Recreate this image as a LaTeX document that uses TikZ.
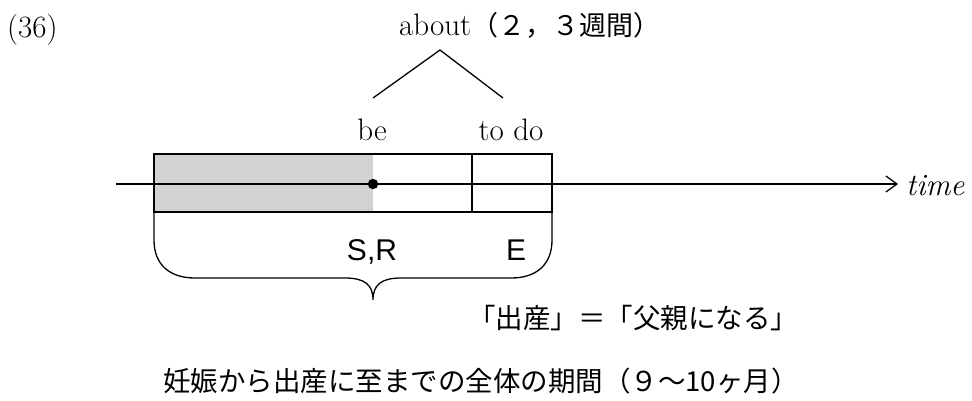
\documentclass[tikz,border=0pt]{standalone}
\usepackage{fontspec}
\newfontfamily\jp{Noto Sans CJK JP}
\newfontfamily\sansf{Liberation Sans}
\usetikzlibrary{arrows.meta}
\definecolor{boxgray}{HTML}{D1D2D4}
\tikzset{
  lbl/.style={inner sep=0pt, font=\fontsize{31}{36}\selectfont},
  jplbl/.style={inner sep=0pt, font=\jp\fontsize{27.5}{32}\selectfont},
  sanslbl/.style={inner sep=0pt, font=\sansf\fontsize{30}{34}\selectfont},
  ln/.style={line width=1.3pt, black},
}
\begin{document}
\begin{tikzpicture}[x=1pt,y=-1pt]
\useasboundingbox (0,0) rectangle (972,400);
% labels
\node[lbl, anchor=base west] (num) at (7,37) {(36)};
\node[lbl, anchor=base west] (about) at (399,35) {about{\jp\fontsize{27}{32}\selectfont （２，３週間）}};
\node[lbl, anchor=base] (be) at (372,140) {be};
\node[lbl, anchor=base] (todo) at (511,140) {to do};
% tree
\coordinate (apex) at (440,50);
\coordinate (lb) at (373,98);
\coordinate (rb) at (503,98);
\draw[ln] (lb) -- (apex) -- (rb);
% box
\fill[boxgray] (154,154) rectangle (373,212);
\coordinate (t0) at (116,184);
\coordinate (t1) at (898,184);
\draw[ln, -{Straight Barb[length=11pt,width=16pt,line width=1.3pt]}] (t0) -- (t1);
\node[lbl, anchor=base west, font=\itshape\fontsize{31}{36}\selectfont] (time) at (906,195) {time};
\draw[ln] (154,154) rectangle (552,212);
\draw[ln] (472,154) -- (472,212);
\fill (373,184) circle (5.2pt);
% labels below
\node[sanslbl, anchor=base] (sr) at (372,260) {S,R};
\node[sanslbl, anchor=base] (e) at (516,260) {E};
% brace
\draw[ln] (154,212) -- (154,240) .. controls (154,265) and (170,278) .. (195,278)
  -- (345,278) .. controls (365,278) and (373,285) .. (373,300)
  .. controls (373,285) and (381,278) .. (401,278)
  -- (511,278) .. controls (536,278) and (552,265) .. (552,240) -- (552,212);
\node[jplbl, anchor=west] (eq) at (468,318) {「出産」＝「父親になる」};
\node[jplbl, anchor=west] (whole) at (163,381) {妊娠から出産に至までの全体の期間（９～10ヶ月）};
\end{tikzpicture}
\end{document}
